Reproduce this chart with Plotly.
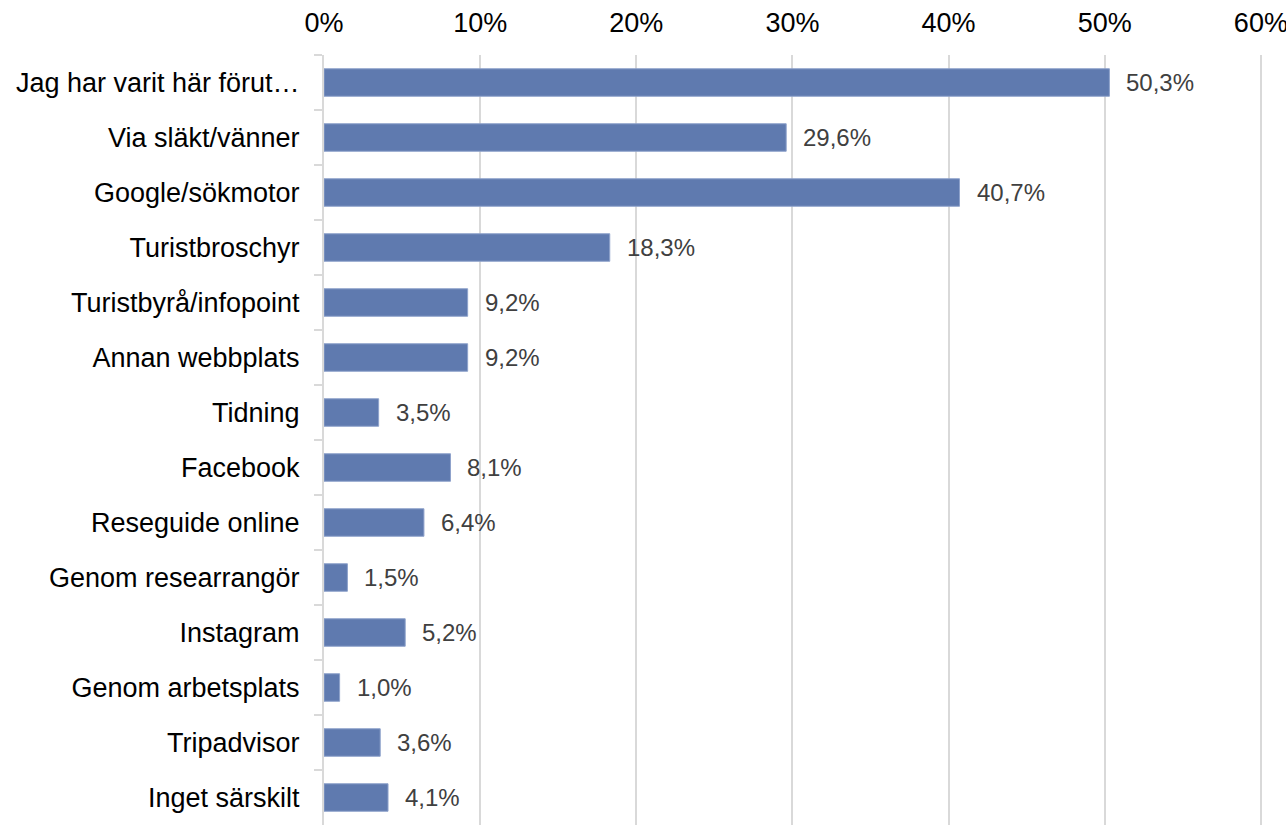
import plotly.graph_objects as go

# Survey answers: how visitors heard about the place
categories = [
    "Jag har varit här förut…",
    "Via släkt/vänner",
    "Google/sökmotor",
    "Turistbroschyr",
    "Turistbyrå/infopoint",
    "Annan webbplats",
    "Tidning",
    "Facebook",
    "Reseguide online",
    "Genom researrangör",
    "Instagram",
    "Genom arbetsplats",
    "Tripadvisor",
    "Inget särskilt",
]
shares = [50.3, 29.6, 40.7, 18.3, 9.2, 9.2, 3.5, 8.1, 6.4, 1.5, 5.2, 1.0, 3.6, 4.1]
x_ticks = [0, 10, 20, 30, 40, 50, 60]

bar_colour = "#5f7aaf"
grid_colour = "#d9d9d9"
font_family = "Liberation Sans, Arial, sans-serif"


def pct_label(v):
    # Swedish decimal comma
    return f"{v:.1f}".replace(".", ",") + "%"


fig = go.Figure()
fig.add_trace(go.Bar(
    x=shares,
    y=categories,
    orientation="h",
    width=0.5,
    marker=dict(color=bar_colour, line=dict(color="#8ea2cb", width=1)),
    hoverinfo="skip",
))

# data labels sit a little to the right of each bar end
for cat, v in zip(categories, shares):
    fig.add_annotation(
        x=v, y=cat, text=pct_label(v),
        xanchor="left", yanchor="middle", xshift=15,
        showarrow=False,
        font=dict(family=font_family, size=24, color="#404040"),
    )

fig.update_layout(
    width=1286, height=825,
    margin=dict(l=324, r=22, t=55, b=0),
    plot_bgcolor="white", paper_bgcolor="white",
    showlegend=False,
    font=dict(family=font_family, size=27, color="#000000"),
)
# range a touch past 60 so the last gridline is not dropped at the edge
fig.update_xaxes(
    side="top",
    range=[0, 60.2],
    tickvals=x_ticks,
    ticktext=[f"{t}%" for t in x_ticks],
    showgrid=True, gridcolor=grid_colour, gridwidth=2,
    zeroline=False, showline=False,
    ticks="", ticklabelstandoff=17,
    ticklabeloverflow="allow",
    automargin=False,
    tickfont=dict(size=27, color="#000000"),
)
fig.update_yaxes(
    autorange="reversed",
    showgrid=False,
    showline=True, linecolor=grid_colour, linewidth=2,
    ticks="outside", tickson="boundaries", ticklen=8,
    tickcolor=grid_colour, tickwidth=2,
    ticklabelstandoff=17,
    automargin=False,
    tickfont=dict(size=27, color="#000000"),
)

# drop the browser's default 8px body margin so the figure fills the window
fig.write_html(
    "out.html",
    config={"displayModeBar": False},
    post_script="document.body.style.margin = '0';",
)
